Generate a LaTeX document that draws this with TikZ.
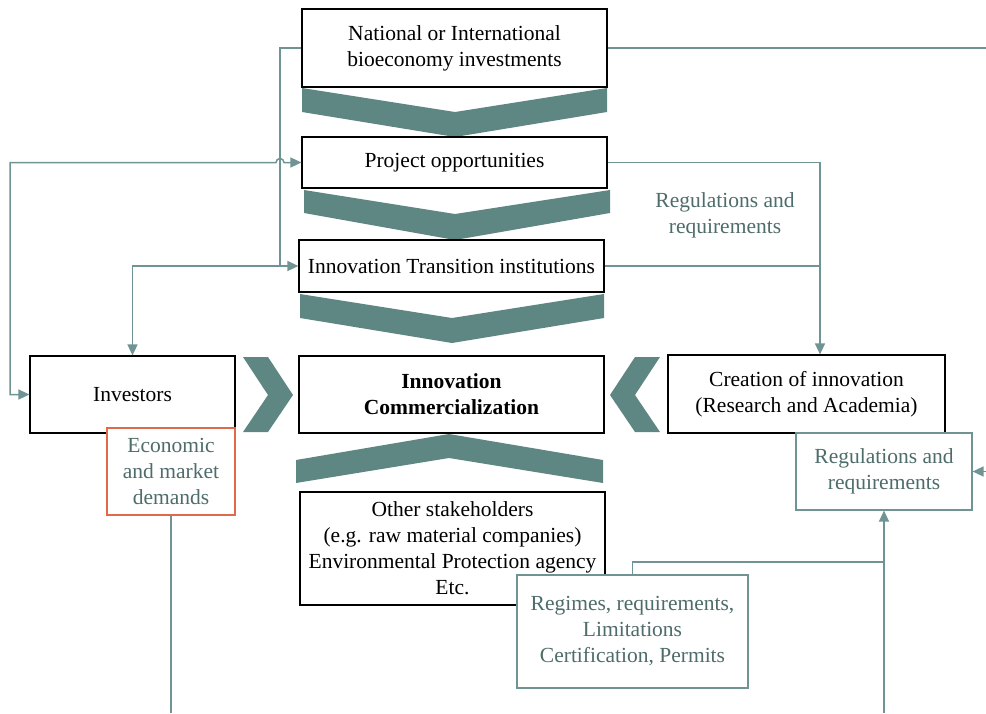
\documentclass[tikz,border=0pt]{standalone}
\usepackage{fontspec}
\setmainfont{Liberation Serif}
\usetikzlibrary{arrows.meta}
\definecolor{chev}{RGB}{94,135,132}
\definecolor{lin}{RGB}{112,148,148}
\definecolor{tealtxt}{RGB}{78,108,106}
\definecolor{orng}{RGB}{222,105,75}
\begin{document}
\begin{tikzpicture}[x=1pt,y=-1pt,
  font=\fontsize{21.5}{26}\selectfont,
  >={Triangle[length=11pt,width=10pt]},
  box/.style={draw=black, line width=1.2pt, fill=white, align=center, inner sep=0pt},
  gbox/.style={draw=lin, line width=1.2pt, fill=white, align=center, text=tealtxt, inner sep=0pt},
  con/.style={draw=lin, line width=1.5pt},
  chevfill/.style={fill=chev}]
\useasboundingbox (0,0) rectangle (986,713);

% chevrons
\fill[chevfill] (302,88) -- (455,112) -- (607,88) -- (607,112) -- (455,137) -- (302,112) -- cycle;
\fill[chevfill] (304,190) -- (455,214) -- (610,190) -- (610,213) -- (455,240) -- (304,213) -- cycle;
\fill[chevfill] (300,294) -- (452,318) -- (604,294) -- (604,318) -- (452,343) -- (300,318) -- cycle;
\fill[chevfill] (243,357) -- (268,357) -- (293,395) -- (268,432) -- (243,432) -- (268,395) -- cycle;
\fill[chevfill] (660,357) -- (635,357) -- (610,395) -- (635,432) -- (660,432) -- (635,395) -- cycle;
\fill[chevfill] (296,460) -- (449,434) -- (603,460) -- (603,483) -- (449,458) -- (296,483) -- cycle;

% main boxes
\node[box, minimum width=305pt, minimum height=78pt] (nat) at (454.5,48) {National or International\\bioeconomy investments};
\node[box, minimum width=305pt, minimum height=51pt] (proj) at (454.5,162.5) {Project opportunities};
\node[box, minimum width=305pt, minimum height=52pt] (trans) at (451.5,266) {Innovation Transition institutions};
\node[box, minimum width=305pt, minimum height=77pt, font=\fontsize{21.5}{26}\selectfont\bfseries] (comm) at (451.5,394.5) {Innovation\\Commercialization};
\node[box, minimum width=205pt, minimum height=77pt] (inv) at (132.5,394.5) {Investors};
\node[box, minimum width=277pt, minimum height=78pt] (cre) at (806.5,394) {Creation of innovation\\(Research and Academia)};
\node[box, minimum width=305pt, minimum height=113pt] (oth) at (452.5,548.5) {Other stakeholders\\(e.g. raw material companies)\\Environmental Protection agency\\Etc.};

% label boxes
\node[gbox, draw=orng, minimum width=128pt, minimum height=87pt] (eco) at (171,471.5) {Economic\\and market\\demands};
\node[gbox, minimum width=176pt, minimum height=77pt] (reg2) at (884,471.5) {Regulations and\\requirements};
\node[gbox, minimum width=231pt, minimum height=113pt] (regm) at (632.5,631.5) {Regimes, requirements,\\Limitations\\Certification, Permits};
\node[text=tealtxt, align=center, inner sep=0pt] (reg1) at (725,215) {Regulations and\\requirements};

% coordinates for junctions and free ends
\coordinate (jl) at (280,266);
\coordinate (rj) at (820,266);
\coordinate (topend) at (986,48);
\coordinate (rin) at (986,471.5);
\coordinate (bin) at (884,713);
\coordinate (rj2) at (884,562);
\coordinate (ecoend) at (171,713);
\coordinate (lc) at (10,162.5);

% left connectors
\draw[con,->] (nat.west) -| (jl) -- (trans.west);
\draw[con,->] (jl) -| (inv.north);
\draw[con,<->] (inv.west) -| (lc) -- (276,162.5) arc[start angle=180, end angle=0, radius=4pt] -- (proj.west);

% right connectors
\draw[con,->] (proj.east) -| ([xshift=13.5pt]cre.north);
\draw[con] (trans.east) -- (rj);
\draw[con] (nat.east) -- (topend);
\draw[con,->] (rin) -- (reg2.east);
\draw[con,->] (bin) -- (reg2.south);
\draw[con] (regm.north) |- (rj2);
\draw[con] (eco.south) -- (ecoend);
\end{tikzpicture}
\end{document}
